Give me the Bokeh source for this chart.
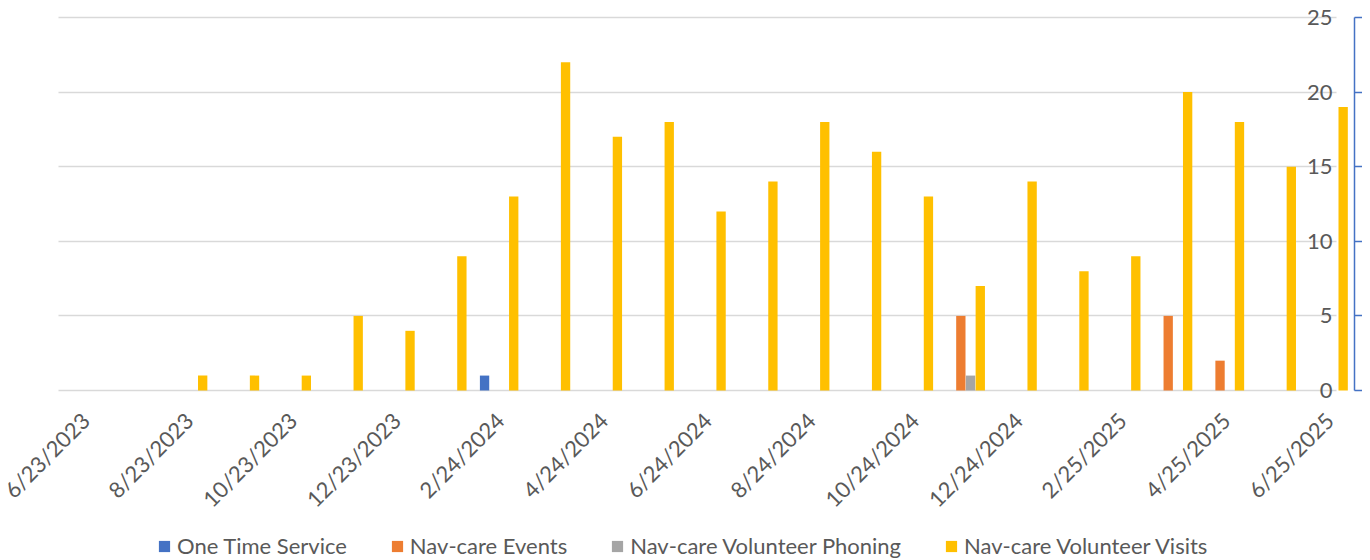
import math
from bokeh.plotting import figure
from bokeh.models import Range1d, FixedTicker, Legend, LegendItem, ColumnDataSource, LabelSet
from bokeh.transform import dodge
from bokeh.core.properties import value
from bokeh.embed import file_html
from bokeh.resources import INLINE

# ---- data (one slot per month, Jun 2023 .. Jun 2025) ----
months = ["2023-06", "2023-07", "2023-08", "2023-09", "2023-10", "2023-11", "2023-12",
          "2024-01", "2024-02", "2024-03", "2024-04", "2024-05", "2024-06", "2024-07",
          "2024-08", "2024-09", "2024-10", "2024-11", "2024-12", "2025-01", "2025-02",
          "2025-03", "2025-04", "2025-05", "2025-06"]
one_time_service = [0, 0, 0, 0, 0, 0, 0, 0, 1, 0, 0, 0, 0, 0, 0, 0, 0, 0, 0, 0, 0, 0, 0, 0, 0]
navcare_events = [0, 0, 0, 0, 0, 0, 0, 0, 0, 0, 0, 0, 0, 0, 0, 0, 0, 5, 0, 0, 0, 5, 2, 0, 0]
navcare_phoning = [0, 0, 0, 0, 0, 0, 0, 0, 0, 0, 0, 0, 0, 0, 0, 0, 0, 1, 0, 0, 0, 0, 0, 0, 0]
navcare_visits = [0, 0, 1, 1, 1, 5, 4, 9, 13, 22, 17, 18, 12, 14, 18, 16, 13, 7, 14, 8, 9, 20, 18, 15, 19]

x_tick_labels = ["6/23/2023", "8/23/2023", "10/23/2023", "12/23/2023", "2/24/2024",
                 "4/24/2024", "6/24/2024", "8/24/2024", "10/24/2024", "12/24/2024",
                 "2/25/2025", "4/25/2025", "6/25/2025"]
y_ticks = [0, 5, 10, 15, 20, 25]

series_names = ["One Time Service", "Nav-care Events", "Nav-care Volunteer Phoning",
                "Nav-care Volunteer Visits"]
series_keys = ["ots", "events", "phoning", "visits"]
colors = ["#4472C4", "#ED7D31", "#A5A5A5", "#FFC000"]

slot = list(range(len(months)))
source = ColumnDataSource(dict(slot=slot, month=months, ots=one_time_service,
                               events=navcare_events, phoning=navcare_phoning,
                               visits=navcare_visits))

FONT = "Lato"
TXT = "#595959"
GRID = "#D9D9D9"

# ---- layout: the frame covers the whole page so that labels and legend are not clipped
px_per_slot = 51.84
px_per_unit = 14.92
plot_left_px = 58          # where the first month slot starts
base_px = 390              # pixel row of value 0
frame_w, frame_h, top_px = 1354, 558, 2
x_start = -0.5 - plot_left_px / px_per_slot
x_end = x_start + frame_w / px_per_slot
y_end = (base_px - top_px) / px_per_unit
y_start = y_end - frame_h / px_per_unit

p = figure(frame_width=frame_w, frame_height=frame_h,
           x_range=Range1d(x_start, x_end), y_range=Range1d(y_start, y_end),
           x_axis_location=None, y_axis_location="right",
           output_backend="svg", toolbar_location=None,
           min_border_left=0, min_border_top=top_px, min_border_right=0, min_border_bottom=0,
           background_fill_color="white", border_fill_color="white")
p.outline_line_color = None
p.xgrid.visible = False

last_slot_edge = len(months) - 0.5
grid_end = last_slot_edge - 0.35
g = p.ygrid[0]
g.ticker = FixedTicker(ticks=y_ticks)
g.grid_line_color = GRID
g.grid_line_width = 1.5
if "cross_bounds" in g.properties():
    g.cross_bounds = (-0.5, grid_end)
else:
    g.visible = False
    p.segment(x0=[-0.5] * len(y_ticks), x1=[grid_end] * len(y_ticks), y0=y_ticks, y1=y_ticks,
              line_color=GRID, line_width=1.5)

# bars (clustered per month)
step = 0.1875
bw = 0.18
renderers = []
for i, (key, col) in enumerate(zip(series_keys, colors)):
    r = p.vbar(x=dodge("slot", (i - 1.5) * step, range=p.x_range), top=key, width=bw,
               bottom=0, source=source, fill_color=col, line_color=None)
    renderers.append(r)

# y tick labels: inside the plot, right-aligned, left of the right axis
ylab_src = ColumnDataSource(dict(y=y_ticks, x=[last_slot_edge] * len(y_ticks),
                                 text=[str(v) for v in y_ticks]))
p.add_layout(LabelSet(x="x", y="y", text="text", source=ylab_src, x_offset=-22,
                      text_align="right", text_baseline="middle",
                      text_font=value(FONT), text_font_size="22px", text_color=TXT))

# x tick labels: every second month, rotated 45 degrees
xtick_slots = list(range(0, len(months), 2))
xlab_src = ColumnDataSource(dict(x=xtick_slots, y=[0] * len(xtick_slots), text=x_tick_labels))
p.add_layout(LabelSet(x="x", y="y", text="text", source=xlab_src, angle=math.pi / 4,
                      x_offset=1, y_offset=-26, text_align="right", text_baseline="middle",
                      text_font=value(FONT), text_font_size="22px", text_color=TXT))

# right axis (line + ticks only, 0..25)
ya = p.yaxis[0]
ya.ticker = FixedTicker(ticks=y_ticks)
ya.bounds = (0, 25)
ya.major_label_overrides = {v: "" for v in y_ticks}
ya.axis_line_color = "#4472C4"
ya.axis_line_width = 1.5
ya.major_tick_line_color = "#4472C4"
ya.major_tick_line_width = 1.5
ya.major_tick_out = 8
ya.major_tick_in = 0
ya.minor_tick_line_color = None
ya.major_label_standoff = 0

legend = Legend(items=[LegendItem(label=n, renderers=[r]) for n, r in zip(series_names, renderers)],
                orientation="horizontal", location=(157, 1),
                label_text_font=FONT, label_text_font_size="22px", label_text_color=TXT,
                glyph_width=14, glyph_height=14, label_standoff=6, spacing=43,
                border_line_color=None, background_fill_alpha=0, padding=0, margin=0)
p.add_layout(legend, "center")

open("out.html", "w").write(file_html(p, INLINE))
